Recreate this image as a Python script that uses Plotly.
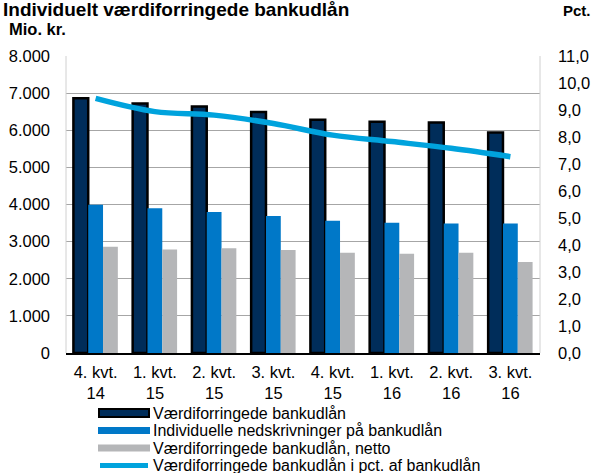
import plotly.graph_objects as go

categories = ["4. kvt.<br>14", "1. kvt.<br>15", "2. kvt.<br>15", "3. kvt.<br>15",
              "4. kvt.<br>15", "1. kvt.<br>16", "2. kvt.<br>16", "3. kvt.<br>16"]
vaerdiforringede = [6860, 6720, 6640, 6490, 6280, 6230, 6210, 5940]
nedskrivninger = [3990, 3900, 3800, 3690, 3560, 3510, 3490, 3490]
netto = [2860, 2790, 2820, 2775, 2700, 2675, 2700, 2450]
pct_af_udlaan = [9.43, 8.94, 8.81, 8.50, 8.07, 7.83, 7.58, 7.27]

names = ["Værdiforringede bankudlån", "Individuelle nedskrivninger på bankudlån",
         "Værdiforringede bankudlån, netto", "Værdiforringede bankudlån i pct. af bankudlån"]

NAVY = "#002D5A"
BLUE = "#0078C8"
GRAY = "#B5B6B8"
LINE = "#00A3DD"

W, H = 596, 473
L, R, T, B = 66, 56, 56, 120
PW, PH = W - L - R, H - T - B


def px(x):
    return (x - L) / PW


def py(y):
    return (H - B - y) / PH


fig = go.Figure()
fig.add_trace(go.Bar(x=categories, y=vaerdiforringede, marker=dict(color=NAVY, line=dict(color="black", width=2.5)),
                     name=names[0]))
fig.add_trace(go.Bar(x=categories, y=nedskrivninger, marker=dict(color=BLUE, line=dict(width=0)),
                     name=names[1]))
fig.add_trace(go.Bar(x=categories, y=netto, marker=dict(color=GRAY, line=dict(width=0)),
                     name=names[2]))
fig.add_trace(go.Scatter(x=categories, y=pct_af_udlaan, yaxis="y2", mode="lines",
                         line=dict(color=LINE, width=5.5, shape="spline"), name=names[3]))

# manual legend
shapes = [
    dict(type="line", xref="paper", yref="paper", x0=0, x1=0, y0=0, y1=1, line=dict(color="#D0D0D0", width=1)),
    dict(type="line", xref="paper", yref="paper", x0=1, x1=1, y0=0, y1=1, line=dict(color="#D0D0D0", width=1)),
]
annotations = []
rows = [413, 430.5, 448, 465.5]
x0s, x1s = 99, 149
for i, (nm, rowy) in enumerate(zip(names, rows)):
    if i == 0:
        shapes.append(dict(type="rect", xref="paper", yref="paper", x0=px(x0s), x1=px(x1s),
                           y0=py(rowy + 4), y1=py(rowy - 4), fillcolor=NAVY,
                           line=dict(color="black", width=2)))
    elif i in (1, 2):
        col = BLUE if i == 1 else GRAY
        shapes.append(dict(type="rect", xref="paper", yref="paper", x0=px(x0s - 1), x1=px(x1s + 1),
                           y0=py(rowy + 3.5), y1=py(rowy - 3.5), fillcolor=col, line=dict(width=0)))
    else:
        shapes.append(dict(type="line", xref="paper", yref="paper", x0=px(x0s + 1), x1=px(x1s - 1),
                           y0=py(rowy), y1=py(rowy), line=dict(color=LINE, width=5)))
    annotations.append(dict(text=nm, xref="paper", yref="paper", x=px(152), y=py(rowy),
                            xanchor="left", yanchor="middle", showarrow=False,
                            font=dict(size=16), borderpad=0))

annotations += [
    dict(text="<b>Individuelt værdiforringede bankudlån</b>", xref="paper", yref="paper",
         x=px(2), y=py(-2), xanchor="left", yanchor="top", showarrow=False, font=dict(size=19), borderpad=0),
    dict(text="<b>Mio. kr.</b>", xref="paper", yref="paper", x=px(8), y=py(29),
         xanchor="left", yanchor="middle", showarrow=False, font=dict(size=16.5), borderpad=0),
    dict(text="<b>Pct.</b>", xref="paper", yref="paper", x=px(592), y=py(10),
         xanchor="right", yanchor="middle", showarrow=False, font=dict(size=15), borderpad=0),
]

fig.update_layout(
    width=W, height=H,
    margin=dict(l=L, r=R, t=T, b=B, autoexpand=False),
    paper_bgcolor="white", plot_bgcolor="white",
    separators=",.",
    showlegend=False,
    barmode="group", bargap=0.25, bargroupgap=0,
    font=dict(family="Liberation Sans, Arial", size=16, color="black"),
    xaxis=dict(showgrid=False, showline=True, linecolor="black", linewidth=1.5, ticks="",
               tickfont=dict(size=16.5), ticklabelstandoff=3, automargin=False),
    yaxis=dict(range=[0, 8000], dtick=1000, tickformat=",.0f", showgrid=True, gridcolor="#A6A6A6",
               gridwidth=1, zeroline=False, showline=False, ticks="", tickfont=dict(size=16.5),
               ticklabelstandoff=15, automargin=False),
    yaxis2=dict(range=[0, 11], dtick=1, tickformat=".1f", overlaying="y", side="right",
                showgrid=False, zeroline=False, showline=False, ticks="", tickfont=dict(size=16.5),
                ticklabelstandoff=17, automargin=False),
    shapes=shapes,
    annotations=annotations,
)

fig.write_html("out.html", config={"displayModeBar": False},
               post_script="document.body.style.margin='0';document.body.style.padding='0';")
